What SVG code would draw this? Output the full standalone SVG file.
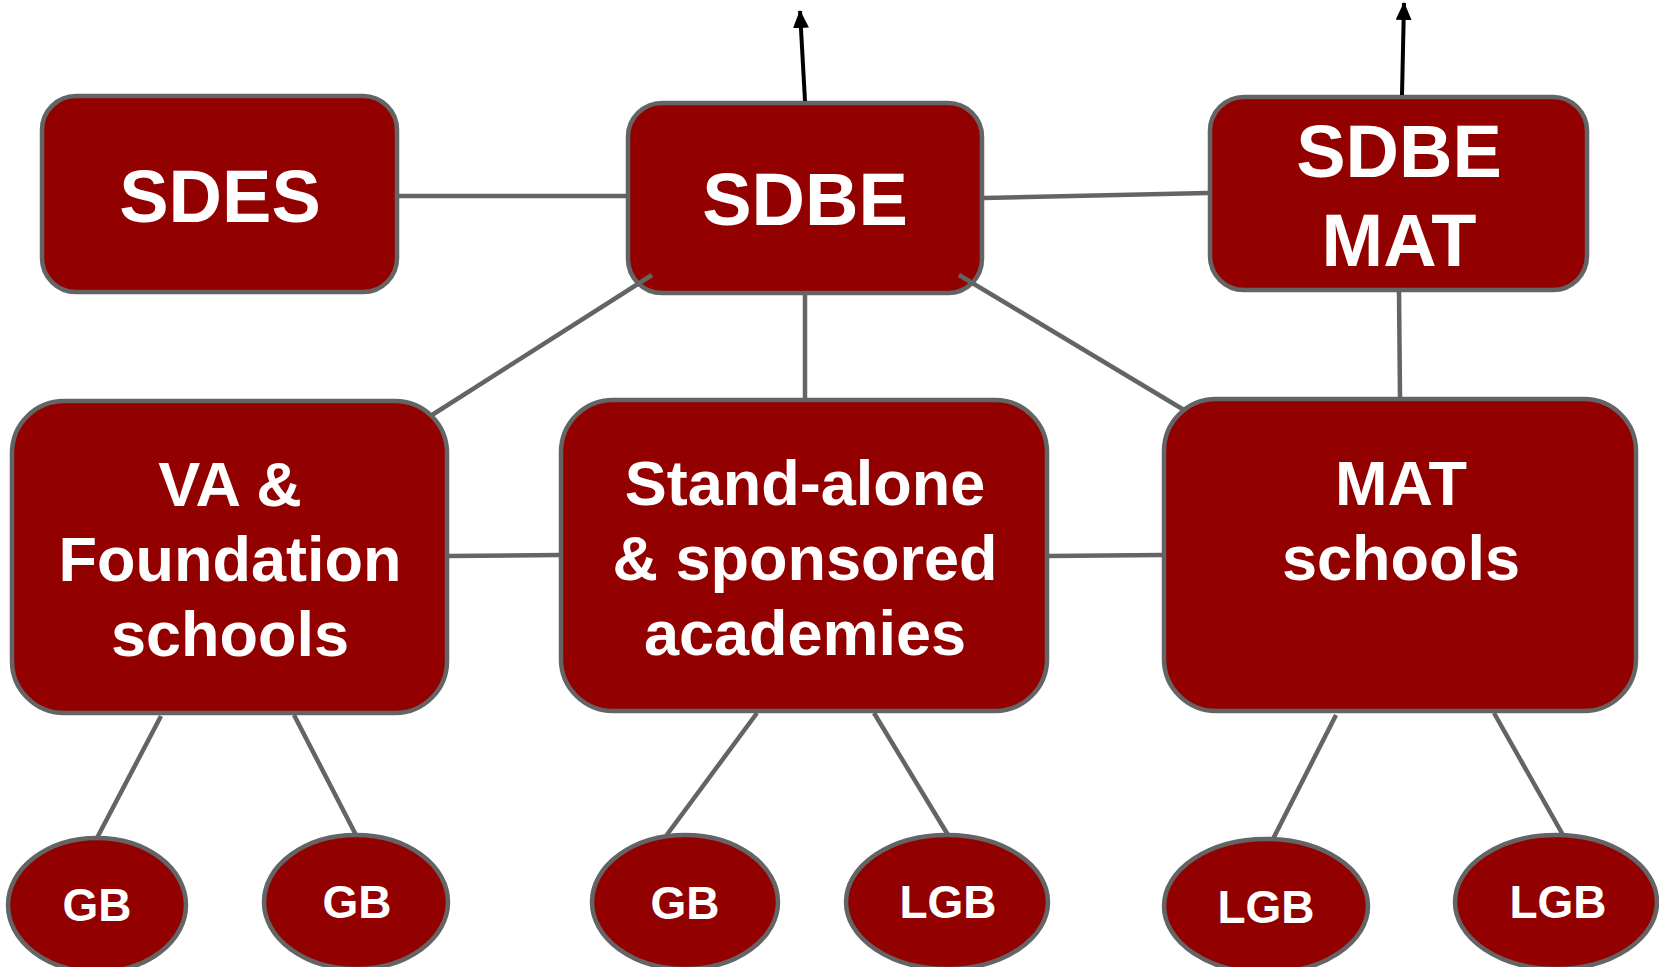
<svg xmlns="http://www.w3.org/2000/svg" width="1659" height="967" viewBox="0 0 1659 967">
<style>
.box{fill:#930000;stroke:#646464;stroke-width:4.5}
.lbl{fill:#fff;font-family:"Liberation Sans",Arial,sans-serif;font-weight:bold;text-anchor:middle}
.big{font-size:74px}
.mid{font-size:63px}
.sm{font-size:46px}
.con{stroke:#646464;stroke-width:4.5;fill:none}
.arr{stroke:#000;stroke-width:4;fill:none;marker-end:url(#ah)}
</style>
<defs>
<marker id="ah" markerUnits="userSpaceOnUse" markerWidth="18" markerHeight="20" refX="17" refY="8" orient="auto">
<path d="M0,0 L18,8 L0,16 Z" fill="#000"/>
</marker>
</defs>
<rect width="1659" height="967" fill="#fff"/>
<g id="sdes">
<rect class="box" x="42" y="96" width="355" height="196" rx="34"/>
<text class="lbl big" x="220" y="222">SDES</text>
</g>
<g id="sdbe">
<rect class="box" x="628" y="103" width="354" height="190" rx="34"/>
<text class="lbl big" x="805" y="225">SDBE</text>
</g>
<g id="sdbe-mat">
<rect class="box" x="1210" y="97" width="377" height="193" rx="34"/>
<text class="lbl big" x="1399" y="177">SDBE</text>
<text class="lbl big" x="1399" y="266">MAT</text>
</g>
<g id="va">
<rect class="box" x="12" y="401" width="435" height="312" rx="52"/>
<text class="lbl mid" x="230" y="506">VA &amp;</text>
<text class="lbl mid" x="230" y="581">Foundation</text>
<text class="lbl mid" x="230" y="656">schools</text>
</g>
<g id="standalone">
<rect class="box" x="561" y="400" width="486" height="311" rx="52"/>
<text class="lbl mid" x="805" y="505">Stand-alone</text>
<text class="lbl mid" x="805" y="580">&amp; sponsored</text>
<text class="lbl mid" x="805" y="655">academies</text>
</g>
<g id="mat">
<rect class="box" x="1164" y="399" width="472" height="312" rx="52"/>
<text class="lbl mid" x="1401" y="505">MAT</text>
<text class="lbl mid" x="1401" y="580">schools</text>
</g>
<g id="gb1">
<ellipse class="box" cx="97" cy="905" rx="89" ry="67"/>
<text class="lbl sm" x="97" y="921">GB</text>
</g>
<g id="gb2">
<ellipse class="box" cx="356" cy="902" rx="92" ry="67"/>
<text class="lbl sm" x="357" y="918">GB</text>
</g>
<g id="gb3">
<ellipse class="box" cx="685" cy="902" rx="93" ry="67"/>
<text class="lbl sm" x="685" y="919">GB</text>
</g>
<g id="lgb1">
<ellipse class="box" cx="947" cy="902" rx="101" ry="67"/>
<text class="lbl sm" x="948" y="918">LGB</text>
</g>
<g id="lgb2">
<ellipse class="box" cx="1266" cy="906" rx="102" ry="67"/>
<text class="lbl sm" x="1266" y="923">LGB</text>
</g>
<g id="lgb3">
<ellipse class="box" cx="1556" cy="902" rx="101" ry="67"/>
<text class="lbl sm" x="1558" y="918">LGB</text>
</g>
<g id="connectors">
<line class="con" x1="399" y1="196" x2="626" y2="196"/>
<line class="con" x1="984" y1="198" x2="1208" y2="193"/>
<line class="con" x1="652" y1="275" x2="432" y2="415"/>
<line class="con" x1="805" y1="295" x2="805" y2="398"/>
<line class="con" x1="959" y1="275" x2="1184" y2="410"/>
<line class="con" x1="1399" y1="292" x2="1400" y2="397"/>
<line class="con" x1="449" y1="556" x2="559" y2="555"/>
<line class="con" x1="1049" y1="556" x2="1162" y2="555"/>
<line class="con" x1="161" y1="716" x2="97" y2="838"/>
<line class="con" x1="294" y1="715" x2="356" y2="835"/>
<line class="con" x1="757" y1="713" x2="666" y2="836"/>
<line class="con" x1="874" y1="713" x2="948" y2="835"/>
<line class="con" x1="1336" y1="715" x2="1273" y2="839"/>
<line class="con" x1="1494" y1="713" x2="1563" y2="835"/>
<line class="arr" x1="805" y1="101" x2="800" y2="11"/>
<line class="arr" x1="1402" y1="95" x2="1404" y2="3"/>
</g>
</svg>
